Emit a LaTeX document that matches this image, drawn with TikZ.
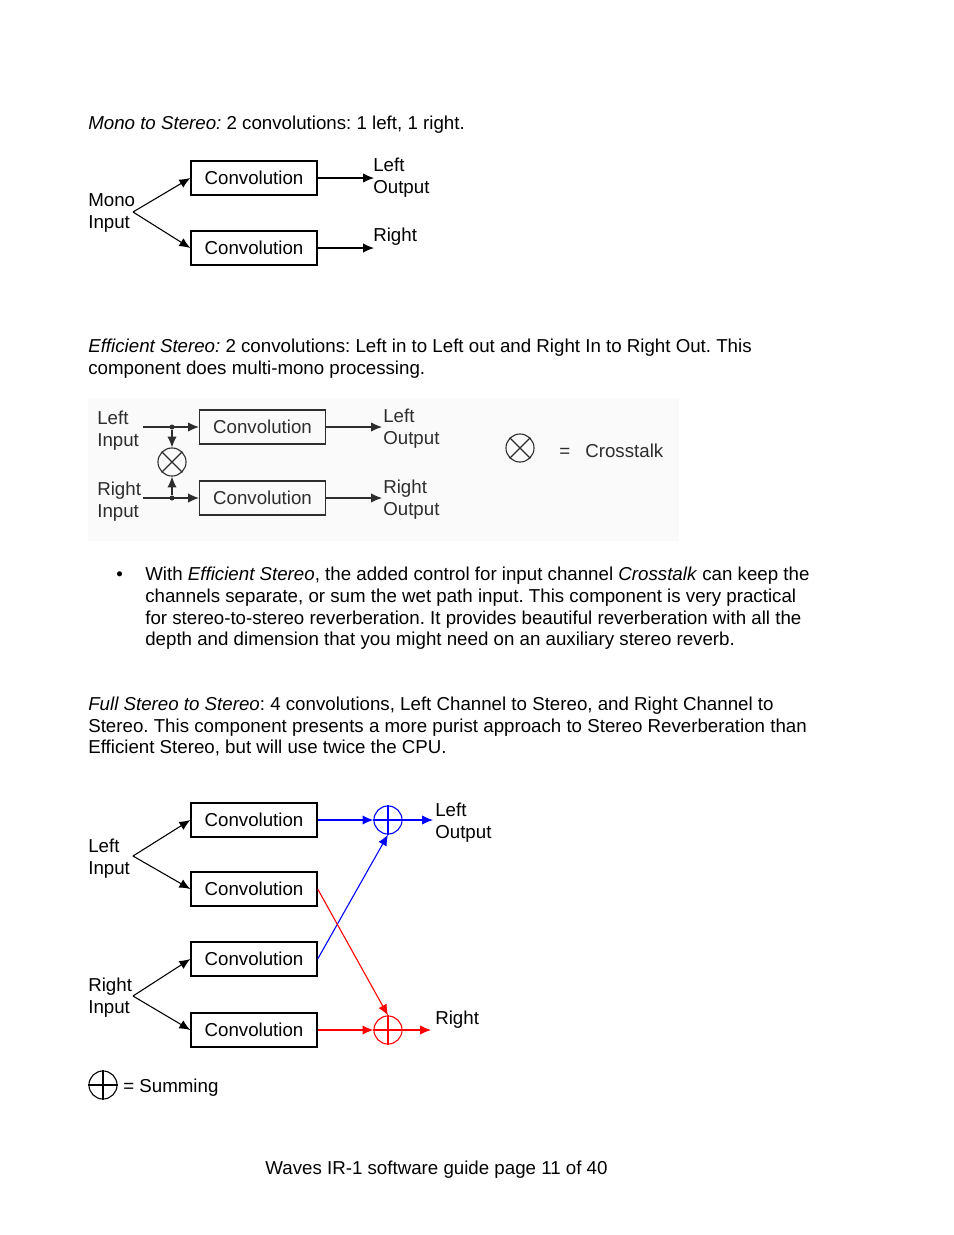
\documentclass[tikz,border=0pt]{standalone}
\usepackage{fontspec}
\setmainfont{Liberation Sans}
\usetikzlibrary{arrows.meta}
\frenchspacing

\definecolor{sumblue}{RGB}{0,0,255}
\definecolor{sumred}{RGB}{255,0,0}
\definecolor{panelgray}{RGB}{250,250,250}
\definecolor{inkgray}{RGB}{45,45,45}

\tikzset{
  txt/.style={anchor=base west, inner sep=0pt, font=\fontsize{12}{14}\selectfont},
  conv/.style={draw, line width=0.9pt, minimum width=80.8pt, minimum height=21.8pt,
    inner sep=0pt, font=\fontsize{12}{14}\selectfont},
  sig/.style={line width=0.7pt, -{Latex[length=7pt,width=6pt]}},
  wire/.style={line width=0.7pt},
  summer/.style={draw, circle, minimum size=18pt, inner sep=0pt, line width=0.7pt},
  jdot/.style={circle, fill, inner sep=0pt, minimum size=3.2pt},
}

\begin{document}
\begin{tikzpicture}[x=0.6415pt, y=-0.6415pt]
        \path[use as bounding box, fill=white] (0,0) rectangle (954,1235);

        % Mono to Stereo
        \node[txt] (t1) at (88,129) {\textit{Mono to Stereo:} 2 convolutions: 1 left, 1 right.};

        \node[conv] (mcl) at (254,178) {Convolution\hspace{3pt}};
        \node[conv] (mcr) at (254,248) {Convolution\hspace{3pt}};
        \node[txt] (mono1) at (88,206) {Mono};
        \node[txt] (mono2) at (88,228) {Input};
        \coordinate (mfork) at (133,212);
        \coordinate (mol) at (374,178);
        \coordinate (mor) at (374,248);
        \node[txt] (mlo1) at (373,171) {Left};
        \node[txt] (mlo2) at (373,193) {Output};
        \node[txt] (mro1) at (373,241) {Right};

        \draw[sig] (mfork) -- (mcl.west);
        \draw[sig] (mfork) -- (mcr.west);
        \draw[sig] (mcl.east) -- (mol);
        \draw[sig] (mcr.east) -- (mor);

        % Efficient Stereo
        \node[txt] (t2a) at (88,352) {\textit{Efficient Stereo:} 2 convolutions: Left in to Left out and Right In to Right Out. This};
        \node[txt] (t2b) at (88,374) {component does multi-mono processing.};

        \fill[panelgray] (88,398) rectangle (679,541);
        \begin{scope}[inkgray]
        \node[conv, line width=0.7pt] (ecl) at (262.5,427) {Convolution\hspace{3pt}};
        \node[conv, line width=0.7pt] (ecr) at (262.5,498) {Convolution\hspace{3pt}};
        \node[txt] (eli1) at (97,424) {Left};
        \node[txt] (eli2) at (97,446) {Input};
        \node[txt] (eri1) at (97,495) {Right};
        \node[txt] (eri2) at (97,517) {Input};
        \node[txt] (elo1) at (383,422) {Left};
        \node[txt] (elo2) at (383,444) {Output};
        \node[txt] (ero1) at (383,493) {Right};
        \node[txt] (ero2) at (383,515) {Output};
        \coordinate (elin) at (143,427);
        \coordinate (erin) at (143,498);
        \node[jdot] (ejl) at (172,427) {};
        \node[jdot] (ejr) at (172,498) {};
        \node[summer] (xtalk) at (172,462) {};
        \draw[wire] (xtalk.north west) -- (xtalk.south east);
        \draw[wire] (xtalk.north east) -- (xtalk.south west);
        \coordinate (eol) at (382,427);
        \coordinate (eor) at (382,498);

        \draw[sig] (elin) -- (ecl.west);
        \draw[sig] (erin) -- (ecr.west);
        \draw[sig] (ejl) -- (xtalk.north);
        \draw[sig] (ejr) -- (xtalk.south);
        \draw[sig] (ecl.east) -- (eol);
        \draw[sig] (ecr.east) -- (eor);

        % legend
        \node[summer] (xkey) at (520,448) {};
        \draw[wire] (xkey.north west) -- (xkey.south east);
        \draw[wire] (xkey.north east) -- (xkey.south west);
        \node[txt] (xeq) at (559,457) {=};
        \node[txt] (xname) at (585,457) {Crosstalk};
        \end{scope}

        % bullet
        \node[txt] (bul) at (116,580) {\textbullet};
        \node[txt] (b1) at (145,580) {With \textit{Efficient Stereo}, the added control for input channel \textit{Crosstalk} can keep the};
        \node[txt] (b2) at (145,602) {channels separate, or sum the wet path input. This component is very practical};
        \node[txt] (b3) at (145,624) {for stereo-to-stereo reverberation. It provides beautiful reverberation with all the};
        \node[txt] (b4) at (145,645) {depth and dimension that you might need on an auxiliary stereo reverb.};

        % Full Stereo to Stereo
        \node[txt] (t3a) at (88,710) {\textit{Full Stereo to Stereo}: 4 convolutions, Left Channel to Stereo, and Right Channel to};
        \node[txt] (t3b) at (88,732) {Stereo. This component presents a more purist approach to Stereo Reverberation than};
        \node[txt] (t3c) at (88,753) {Efficient Stereo, but will use twice the CPU.};

        \node[conv] (fc1) at (254,820) {Convolution\hspace{3pt}};
        \node[conv] (fc2) at (254,889) {Convolution\hspace{3pt}};
        \node[conv] (fc3) at (254,959) {Convolution\hspace{3pt}};
        \node[conv] (fc4) at (254,1030) {Convolution\hspace{3pt}};
        \node[txt] (fli1) at (88,852) {Left};
        \node[txt] (fli2) at (88,874) {Input};
        \node[txt] (fri1) at (88,991) {Right};
        \node[txt] (fri2) at (88,1013) {Input};
        \coordinate (lfork) at (133,856);
        \coordinate (rfork) at (133,996);

        \node[summer, sumblue] (sl) at (388,820) {};
        \draw[wire, sumblue] (sl.north) -- (sl.south) (sl.west) -- (sl.east);
        \node[summer, sumred] (sr) at (388,1030) {};
        \draw[wire, sumred] (sr.north) -- (sr.south) (sr.west) -- (sr.east);
        \coordinate (fol) at (433,820);
        \coordinate (for) at (431,1030);
        \node[txt] (flo1) at (435,816) {Left};
        \node[txt] (flo2) at (435,838) {Output};
        \node[txt] (fro1) at (435,1024) {Right};

        \draw[sig] (lfork) -- (fc1.west);
        \draw[sig] (lfork) -- (fc2.west);
        \draw[sig] (rfork) -- (fc3.west);
        \draw[sig] (rfork) -- (fc4.west);
        \draw[sig, sumblue] (fc1.east) -- (sl.west);
        \draw[sig, sumblue] (fc3.east) -- (sl.south);
        \draw[sig, sumblue] (sl.east) -- (fol);
        \draw[sig, sumred] (fc2.east) -- (sr.north);
        \draw[sig, sumred] (fc4.east) -- (sr.west);
        \draw[sig, sumred] (sr.east) -- (for);

        % summing key
        \node[summer] (skey) at (103,1085) {};
        \draw[wire] (skey.north) -- (skey.south) (skey.west) -- (skey.east);
        \node[txt] (sname) at (123,1092) {= Summing};

        % footer
        \node[txt, anchor=base] (foot) at (436.5,1174) {Waves IR-1 software guide page 11 of 40};
\end{tikzpicture}
\end{document}
